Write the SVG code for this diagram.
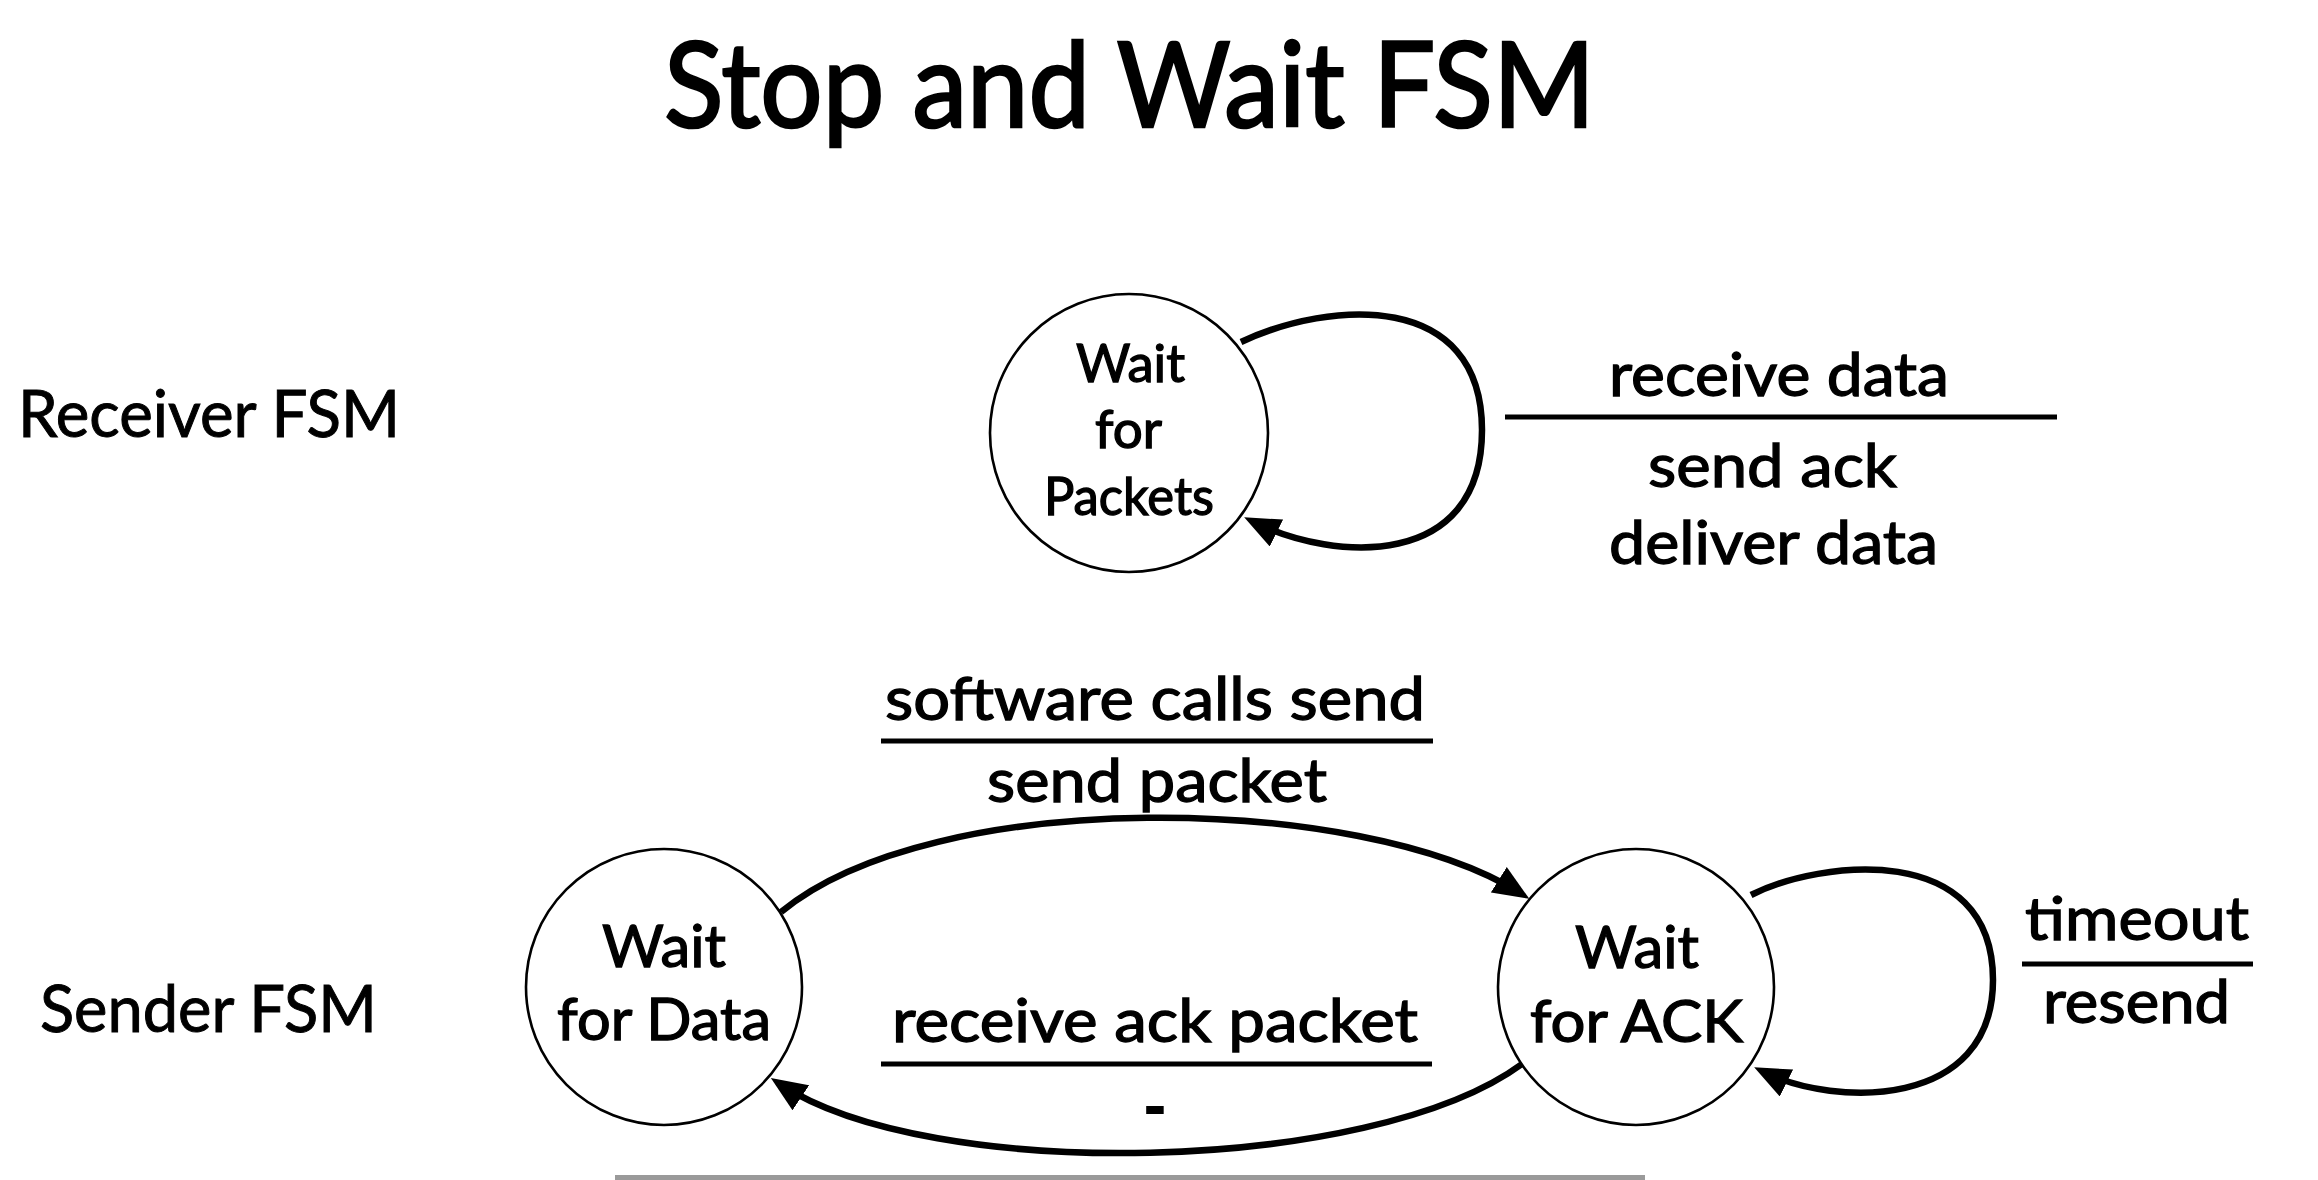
<svg xmlns="http://www.w3.org/2000/svg" width="2318" height="1180" viewBox="0 0 2318 1180">
<style>
text{font-family:Lato,"Open Sans","Liberation Sans",sans-serif;fill:#000;stroke:#000;stroke-width:1.3}
.title{font-size:118px;stroke-width:2.6}
.side{font-size:66px;stroke-width:1}
.rst{font-size:52px}
.sst{font-size:58px}
.lbl{font-size:60px}
.dash{font-weight:bold;stroke-width:2}
.state{fill:#fff;stroke:#000;stroke-width:2.6}
.edge{fill:none;stroke:#000;stroke-width:6.5;marker-end:url(#arr)}
.bar{stroke:#000;stroke-width:5}
</style>
<defs>
<marker id="arr" markerUnits="userSpaceOnUse" markerWidth="36" markerHeight="30" viewBox="0 0 36 30" refX="25" refY="15" orient="auto">
<path d="M0,0 L36,15 L0,30 z" fill="#000"/>
</marker>
</defs>
<rect width="2318" height="1180" fill="#fff"/>
<text class="title" x="664" y="127" textLength="931" lengthAdjust="spacingAndGlyphs">Stop and Wait FSM</text>
<text class="side" x="18" y="437" textLength="382" lengthAdjust="spacingAndGlyphs">Receiver FSM</text>
<text class="side" x="40" y="1032" textLength="337" lengthAdjust="spacingAndGlyphs">Sender FSM</text>

<g id="connectors">
<path id="e-recv-loop" class="edge" d="M1241,342 C1330,300 1482,290 1482,430 C1482,570 1335,562 1254,522"/>
<path id="e-data-ack" class="edge" d="M781,912 C933,786 1360,793 1520,893"/>
<path id="e-ack-data" class="edge" d="M1522,1064 C1371,1175 929,1183 780,1084"/>
<path id="e-ack-loop" class="edge" d="M1751,895 C1820,860 1993,840 1993,980 C1993,1110 1835,1107 1764,1072"/>
</g>

<g id="n-wait-packets">
<circle class="state" cx="1129" cy="433" r="139"/>
<text class="rst" x="1076" y="382" textLength="109" lengthAdjust="spacingAndGlyphs">Wait</text>
<text class="rst" x="1095" y="448" textLength="67" lengthAdjust="spacingAndGlyphs">for</text>
<text class="rst" x="1044" y="515" textLength="170" lengthAdjust="spacingAndGlyphs">Packets</text>
</g>

<g id="n-wait-data">
<circle class="state" cx="664" cy="987" r="138"/>
<text class="sst" x="602" y="967" textLength="124" lengthAdjust="spacingAndGlyphs">Wait</text>
<text class="sst" x="557" y="1040" textLength="214" lengthAdjust="spacingAndGlyphs">for Data</text>
</g>

<g id="n-wait-ack">
<circle class="state" cx="1636" cy="987" r="138"/>
<text class="sst" x="1575" y="968" textLength="124" lengthAdjust="spacingAndGlyphs">Wait</text>
<text class="sst" x="1530" y="1042" textLength="213" lengthAdjust="spacingAndGlyphs">for ACK</text>
</g>

<g id="l-recv">
<text class="lbl" x="1609" y="396" textLength="340" lengthAdjust="spacingAndGlyphs">receive data</text>
<line class="bar" x1="1505" y1="417" x2="2057" y2="417"/>
<text class="lbl" x="1648" y="487" textLength="249" lengthAdjust="spacingAndGlyphs">send ack</text>
<text class="lbl" x="1609" y="564" textLength="329" lengthAdjust="spacingAndGlyphs">deliver data</text>
</g>

<g id="l-send">
<text class="lbl" x="885" y="720" textLength="540" lengthAdjust="spacingAndGlyphs">software calls send</text>
<line class="bar" x1="881" y1="741" x2="1433" y2="741"/>
<text class="lbl" x="987" y="802" textLength="340" lengthAdjust="spacingAndGlyphs">send packet</text>
</g>

<g id="l-ack">
<text class="lbl" x="892" y="1042" textLength="526" lengthAdjust="spacingAndGlyphs">receive ack packet</text>
<line class="bar" x1="881" y1="1064" x2="1432" y2="1064"/>
<text class="lbl dash" x="1155" y="1128" text-anchor="middle">-</text>
</g>

<g id="l-timeout">
<text class="lbl" x="2025" y="940" textLength="224" lengthAdjust="spacingAndGlyphs">timeout</text>
<line class="bar" x1="2022" y1="964" x2="2253" y2="964"/>
<text class="lbl" x="2043" y="1023" textLength="187" lengthAdjust="spacingAndGlyphs">resend</text>
</g>

<rect x="615" y="1175" width="1030" height="5" fill="#9a9a9a"/>
</svg>
